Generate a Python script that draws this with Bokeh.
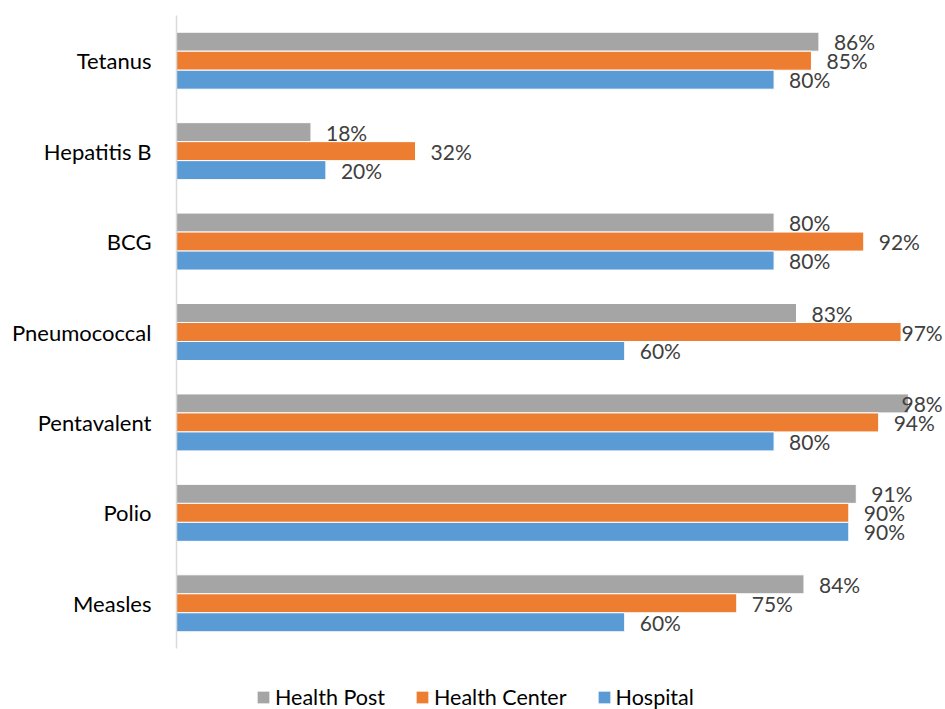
import numpy as np
from bokeh.plotting import figure
from bokeh.models import ColumnDataSource, Range1d, Legend, LegendItem, FixedTicker
from bokeh.transform import dodge
from bokeh.core.properties import value
from bokeh.embed import file_html
from bokeh.resources import INLINE

categories = ["Tetanus", "Hepatitis B", "BCG", "Pneumococcal", "Pentavalent", "Polio", "Measles"]
health_post = [86, 18, 80, 83, 98, 91, 84]
health_center = [85, 32, 92, 97, 94, 90, 75]
hospital = [80, 20, 80, 60, 80, 90, 60]
series_names = ["Health Post", "Health Center", "Hospital"]
colors = ["#A5A5A5", "#ED7D31", "#5B9BD5"]

FONT = "Lato"
W, H = 945, 709
left_px, top_px, axis_bottom_px = 176, 15, 648
px_per_unit = 7.47
x_end = (W - left_px) / px_per_unit
label_gap = 15 / px_per_unit
label_max = (901 - left_px) / px_per_unit

n = len(categories)
ypos = np.arange(n, 0, -1)  # Tetanus at top
cat_px = (axis_bottom_px - top_px) / n
y_top = n + 0.5
y_bottom = y_top - (H - top_px) / cat_px

p = figure(width=W, height=H, output_backend="svg", toolbar_location=None,
           y_range=Range1d(y_bottom, y_top), x_range=Range1d(0, x_end),
           min_border_left=left_px, min_border_right=0, min_border_top=top_px, min_border_bottom=0)

offsets = [0.21, 0.0, -0.21]
renderers = []
for name, vals, col, off in zip(series_names, [health_post, health_center, hospital], colors, offsets):
    vals = np.array(vals, dtype=float)
    src = ColumnDataSource(dict(y=ypos, v=vals,
                                lx=np.minimum(vals + label_gap, label_max),
                                lbl=[f"{int(v)}%" for v in vals]))
    r = p.hbar(y=dodge("y", off), right="v", left=0, height=0.21,
               source=src, fill_color=col, line_color="white", line_width=1)
    renderers.append((name, r))
    p.text(x="lx", y=dodge("y", off), text="lbl", source=src,
           text_font=value(FONT), text_font_size="21px", text_color="#404040",
           text_baseline="middle", text_align="left")

p.xaxis.visible = False
p.xgrid.visible = False
p.ygrid.visible = False
p.outline_line_color = None
p.yaxis.ticker = FixedTicker(ticks=list(ypos))
p.yaxis.major_label_overrides = {int(y): c for y, c in zip(ypos, categories)}
p.yaxis.bounds = (0.5, n + 0.5)
p.yaxis.major_tick_line_color = None
p.yaxis.minor_tick_line_color = None
p.yaxis.axis_line_color = "#D9D9D9"
p.yaxis.axis_line_width = 1.5
p.yaxis.major_label_standoff = 19
p.yaxis.major_label_text_font = FONT
p.yaxis.major_label_text_font_size = "22px"
p.yaxis.major_label_text_color = "#000000"

legend = Legend(items=[LegendItem(label=nm, renderers=[r]) for nm, r in renderers],
                orientation="horizontal", location=(79, -1),
                glyph_width=16, glyph_height=16, label_standoff=4, spacing=29,
                padding=0, margin=0, border_line_color=None, background_fill_alpha=0,
                label_text_font=FONT, label_text_font_size="21.5px", label_text_color="#000000")
p.add_layout(legend, "center")

open("out.html", "w").write(file_html(p, INLINE))
